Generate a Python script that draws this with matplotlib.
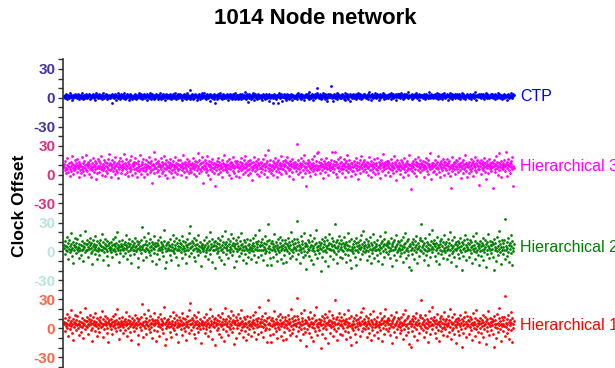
import numpy as np
import matplotlib
matplotlib.use("Agg")
import matplotlib.pyplot as plt

plt.rcParams["font.family"] = ["Liberation Sans", "DejaVu Sans"]

# Clock offset of every node (one value per node, in node order)
ctp_offset = np.array("""
2 1 3 0 2 4 1 2 -1 3 1 2 0 2 5 1 3 1 -2 2 0 3 1 2 4 1
1 3 2 0 2 1 4 -1 2 3 1 2 0 3 1 5 2 1 -1 2 3 0 2 4 1 2
3 0 2 1 4 2 -1 3 1 2 0 3 2 1 4 0 2 3 -2 1 2 5 1 3 0 2
2 4 1 3 0 2 1 -1 3 2 5 1 2 0 3 1 4 2 -1 3 1 2 0 2 3 1
0 2 3 1 4 -5 2 1 3 0 2 4 1 -2 3 2 1 5 0 2 3 1 -1 2 4 1
3 1 2 0 3 2 5 1 -1 2 3 0 4 2 1 3 -2 2 1 4 0 3 2 1 -1 2
1 3 0 2 4 1 3 -1 2 0 3 2 1 5 2 0 3 1 4 -1 2 1 3 0 2 4
2 0 3 1 2 -2 4 2 1 3 0 2 5 1 3 -1 2 4 0 2 1 3 -1 2 0 3
4 2 1 3 -1 2 0 3 1 5 2 -1 3 1 2 4 0 2 3 1 -2 2 4 1 3 0
1 3 2 0 4 1 3 2 -1 2 0 4 1 3 2 0 5 1 2 -1 3 2 1 4 0 2
2 1 4 0 3 2 -2 1 3 2 0 4 1 2 3 -1 2 5 1 0 3 2 1 -1 2 8
3 0 2 4 1 -1 3 2 0 2 4 1 3 -2 2 1 3 0 4 2 1 -1 3 2 5 1
0 2 3 1 5 2 0 3 -1 2 1 4 2 0 3 1 -3 2 4 1 3 0 2 1 3 -1
2 4 1 -5 2 3 1 -1 4 2 0 3 1 2 5 0 2 3 -1 1 4 2 0 3 1 2
1 3 0 2 4 1 -2 3 2 0 4 1 2 3 -1 2 0 4 1 3 2 -1 5 2 0 3
3 1 2 -1 3 0 4 2 1 3 -1 2 4 0 2 1 3 6 0 2 -1 3 1 4 2 -4
0 2 4 1 3 -1 2 0 3 1 5 2 -2 3 1 4 0 2 3 1 -1 4 2 0 3 1
2 1 3 0 -2 2 4 1 3 2 0 -1 3 2 4 1 0 3 2 -3 1 4 2 0 3 1
3 2 0 -6 2 4 1 3 0 2 -1 3 1 2 -5 3 5 1 2 0 3 1 4 2 -3 1
1 4 2 0 3 1 -2 2 4 0 3 1 2 -1 3 2 0 4 1 3 -2 2 1 3 0 2
2 0 3 1 4 2 -1 3 5 1 2 0 3 1 -1 4 2 0 3 2 1 -2 3 1 2 4
3 1 2 4 0 2 -1 6 2 1 3 0 2 4 1 -2 3 1 2 0 4 2 1 3 5 10
1 3 0 2 4 1 3 2 -1 2 0 3 5 1 2 4 -1 2 1 3 0 -3 2 4 1 2
2 4 1 3 12 0 2 -3 1 3 2 4 0 2 1 3 5 1 -1 2 4 1 3 0 2 1
3 0 2 4 1 3 -1 2 5 1 -2 3 2 0 4 1 2 -1 3 2 -3 4 1 2 0 3
1 2 4 0 3 1 2 3 -1 4 2 1 3 5 0 2 1 3 4 -1 2 0 3 1 2 4
2 4 1 3 0 2 3 1 4 -1 2 3 6 1 2 -2 3 2 4 1 0 2 3 1 5 2
3 0 2 4 1 3 2 -2 1 3 0 4 2 1 3 2 5 1 -1 2 4 3 1 2 0 3
1 3 2 0 4 1 3 2 5 -1 2 1 3 4 0 2 1 3 2 4 1 -2 2 3 1 4
4 2 1 3 0 2 5 1 3 2 -1 4 2 0 3 1 2 4 1 3 6 2 0 1 3 2
2 1 3 4 -1 2 0 3 2 1 4 3 1 2 5 0 3 1 2 4 -2 2 3 1 2 3
1 3 0 2 4 1 3 2 -1 1 4 2 3 0 2 1 6 3 2 0 1 4 2 3 1 0
3 2 1 4 2 0 3 1 5 2 -1 1 4 3 2 0 1 3 2 4 -1 2 1 3 5 2
2 0 3 1 4 2 -2 3 2 1 3 0 5 2 1 4 3 -1 2 1 3 2 4 0 1 3
1 4 2 0 3 1 2 4 3 -1 2 1 3 5 2 0 4 1 3 2 -1 2 1 4 3 2
3 1 0 2 4 3 1 2 -1 3 2 4 1 2 0 3 1 6 2 -2 3 2 1 3 4 2
2 3 1 4 0 2 3 1 2 4 -1 1 3 2 5 1 0 2 4 3 1 2 0 3 1 4
1 2 4 3 0 1 3 2 -1 4 2 1 3 0 2 5 1 3 2 4 0 1 3 2 -1 2
3 2 1 0 4 2 3 1 2 -2 3 2 4 1 0 3 2 1 5 2 3 0 1 4 2 3
""".split(), dtype=float)

hier3_offset = np.array("""
8 11 5 14 7 2 10 6 17 9 3 12 8 -1 6 13 9 4 11 19 7 1 10 5 15 8
6 12 9 3 16 7 10 -3 8 13 5 11 2 9 18 6 12 4 8 14 0 10 7 20 5 11
10 4 13 8 1 11 6 15 9 -2 7 12 5 17 8 3 10 14 6 9 -5 12 7 2 16 9
7 14 3 9 12 6 19 8 0 11 5 10 15 7 -1 13 9 4 8 12 2 16 6 10 21 5
12 6 10 -2 8 15 4 11 7 13 1 9 18 5 10 3 12 8 -4 14 6 11 9 17 2 8
5 9 14 7 11 21 8 1 12 6 16 10 3 9 13 -1 7 11 4 15 8 19 6 10 0 12
9 13 6 10 2 17 7 12 5 -3 11 8 14 4 9 20 6 10 1 13 7 11 16 5 8 -2
11 4 8 15 6 10 1 13 9 7 18 3 12 8 5 14 10 -9 6 11 24 9 2 16 7 12
7 12 3 9 14 5 11 -1 10 8 17 6 13 2 9 11 4 19 7 12 0 10 15 6 -4 8
13 8 10 4 12 7 16 2 9 11 5 14 -2 8 10 6 18 3 12 9 7 1 11 15 5 10
6 10 15 8 0 12 5 9 20 7 11 3 13 8 -3 10 6 16 4 12 9 2 14 7 11 5
10 3 12 7 17 9 1 11 6 14 8 -1 10 5 13 22 7 9 2 15 6 11 4 12 8 18
8 13 -9 10 6 15 9 3 12 7 19 5 11 0 9 14 6 10 -5 13 8 4 16 7 11 2
12 7 9 -12 11 5 14 8 1 10 17 6 13 9 3 11 7 -2 15 8 12 5 20 10 6 9
5 11 8 14 3 10 7 16 0 12 9 6 13 -4 8 11 18 4 10 7 2 14 9 12 -1 8
9 14 4 11 7 -2 13 8 10 5 17 12 6 9 1 15 7 11 3 19 8 12 5 10 14 0
11 6 10 2 15 8 12 5 -6 9 13 7 18 10 4 11 8 14 1 9 6 16 12 -1 10 7
7 12 3 13 9 6 16 10 1 11 8 20 5 12 9 -3 14 7 26 10 4 11 15 6 9 2
10 5 14 8 0 12 7 17 9 4 11 -2 13 8 6 15 10 3 12 7 19 9 1 11 6 14
6 11 9 15 4 10 2 13 8 18 7 12 5 -1 10 14 6 11 9 3 16 8 12 -5 7 10
13 8 10 4 32 7 11 1 15 9 6 12 3 10 17 8 -2 11 5 14 9 20 7 12 2 -12
8 12 5 10 15 3 9 13 7 -1 11 6 16 8 10 4 12 19 6 9 1 14 10 7 22 5
23 9 13 6 10 2 12 8 16 5 11 -4 9 14 7 10 3 12 8 17 6 11 0 13 9 7
10 5 12 8 15 24 7 11 3 9 14 6 24 10 1 13 8 -2 11 16 7 9 4 12 18 6
7 13 9 2 11 6 16 10 8 -3 12 5 14 9 20 7 11 3 10 15 6 8 -1 12 9 4
12 8 4 14 9 1 11 7 17 10 5 13 -5 9 6 12 15 8 2 10 19 7 11 4 13 9
9 15 6 11 3 10 13 8 0 12 7 18 9 5 11 -2 14 10 6 9 3 12 16 8 1 11
6 10 12 5 17 8 2 13 9 11 -4 7 15 10 4 12 8 21 6 11 9 0 13 7 10 14
11 3 9 14 7 12 6 -1 10 16 8 5 12 9 2 19 7 11 13 4 10 -6 8 15 6 9
8 12 5 10 1 15 9 7 13 -3 11 6 17 8 10 3 12 9 5 14 0 11 7 20 10 6
10 7 -15 12 9 4 14 8 11 2 16 6 10 13 -1 9 12 5 18 8 11 3 7 15 9 12
5 11 8 14 6 10 -2 13 9 7 17 4 12 10 1 15 8 11 6 22 9 -5 12 7 10 3
12 9 4 10 15 7 11 1 13 8 6 19 10 3 12 9 -3 14 7 11 5 16 8 0 10 13
7 13 10 5 11 16 2 9 12 6 14 8 -1 -14 10 7 18 4 11 9 13 6 1 12 8 15
9 6 14 11 3 10 8 17 5 12 -4 9 13 7 10 2 15 11 6 20 8 12 4 9 -2 11
11 8 2 13 9 6 16 10 4 12 7 -1 14 9 11 5 18 8 12 3 10 15 6 9 -11 13
6 12 9 15 1 11 7 13 10 5 17 8 3 12 9 -5 11 14 7 10 2 16 9 12 6 8
10 4 13 8 12 -14 9 15 6 11 3 10 19 7 13 0 9 12 5 22 8 11 -2 14 7 10
8 12 6 10 15 9 4 23 11 7 13 -1 10 16 5 9 12 2 14 8 11 6 18 -12 9 7
""".split(), dtype=float)

hier1_offset = np.array("""
4 7 -3 11 2 6 15 0 5 -8 9 3 12 -1 6 19 2 8 -5 4 10 -12 7 1 14 5
6 -2 9 3 13 5 0 -7 8 4 17 2 -4 7 11 1 6 -10 3 9 5 -1 21 8 2 12
1 8 5 -6 10 3 14 7 -2 4 9 0 -13 6 12 3 8 -3 5 16 2 7 -8 11 4 0
9 3 -4 7 12 1 6 18 2 -9 5 10 4 -1 8 13 3 6 -5 0 11 7 -14 4 9 2
5 -1 10 4 7 -6 2 13 8 3 0 15 6 -3 9 4 20 1 7 -11 5 11 2 -2 8 6
3 12 6 -5 1 8 4 10 -2 7 17 3 -8 5 9 0 13 6 2 -4 8 4 -12 11 5 1
7 2 -3 9 5 14 0 6 11 3 -7 8 -16 4 10 1 6 -2 12 5 25 3 -9 7 15 2
0 8 4 -6 11 3 7 19 2 -1 9 5 13 -4 6 1 10 -10 4 8 3 -2 16 6 9 -13
6 -3 9 2 7 12 -8 4 1 15 5 10 -1 3 8 -5 6 22 11 -17 4 0 7 -11 2 9
10 4 1 7 -4 13 6 2 -9 8 5 17 0 3 11 -2 7 4 14 -6 9 1 -14 6 3 12
2 9 5 -1 8 16 3 -7 6 11 0 4 -3 10 7 -12 2 13 5 8 1 -5 19 4 9 26
5 -2 11 6 1 9 -6 14 3 7 -10 4 12 0 8 3 -4 17 6 2 10 -1 5 -15 7 4
8 3 0 12 5 -5 7 2 15 -1 9 4 -8 6 11 1 20 3 -3 8 5 13 -11 2 6 10
1 7 11 -17 6 3 9 -2 14 4 0 8 -6 5 12 2 -9 7 3 16 -1 10 5 -13 8 21
4 10 -3 6 2 13 -7 8 1 11 5 -1 18 3 7 -4 9 0 14 6 -16 4 8 -10 12 3
9 0 6 15 3 -5 11 4 7 -2 19 1 8 -9 5 12 2 -3 6 10 -12 4 13 1 7 -6
3 8 -1 5 12 2 -8 7 4 14 0 9 -4 6 17 3 -11 10 5 1 8 -6 11 22 2 7
6 -4 10 2 7 13 1 -9 5 9 3 16 -2 8 0 11 -14 4 29 6 -1 12 3 -7 9 -14
2 11 5 -6 8 3 18 0 6 -3 10 4 -10 7 13 1 5 -1 9 15 2 -8 6 12 4 -12
7 1 -4 9 5 12 3 -11 8 0 14 6 -2 4 10 -7 7 20 2 11 -5 3 8 -1 13 5
4 9 2 -8 13 32 6 -3 10 1 7 -12 5 16 3 -1 8 11 -6 4 19 0 9 -4 6 -18
8 -1 6 12 3 -5 10 2 17 5 -9 7 1 11 4 -13 6 14 0 8 -3 9 22 5 2 -7
1 6 10 -2 7 4 -20 9 3 13 -6 5 0 11 8 -10 2 15 6 -1 12 4 -15 7 18 3
9 3 -5 8 1 14 6 -8 11 2 7 -1 29 5 -3 10 4 12 -12 6 0 9 16 3 -6 8
5 12 2 -7 9 0 6 15 -3 8 4 -11 10 1 7 19 3 -4 11 6 -9 2 13 -17 5 0
3 -2 8 11 5 -6 1 9 14 -14 6 2 10 -1 7 4 -8 12 3 17 5 -3 8 0 21 6
10 4 -1 7 2 13 -9 5 8 0 11 -5 6 3 15 -12 9 1 -2 7 4 18 -7 10 5 1
2 8 6 -4 12 3 -10 7 1 16 5 -2 9 4 -13 11 0 6 13 -6 8 3 20 -1 7 9
7 -3 11 5 0 9 4 -7 14 2 6 -15 8 1 10 -4 12 5 3 -9 17 6 -1 8 11 2
4 10 1 -5 7 12 -2 6 3 15 -11 8 5 -1 9 19 2 -7 11 4 0 13 -4 6 -16 8
6 2 -19 10 4 -3 8 13 1 -8 5 11 7 -1 16 3 -12 9 4 6 -5 12 2 14 29 0
11 5 -2 7 3 -9 9 1 14 6 -4 10 0 8 -14 4 18 2 -6 7 11 3 -1 22 5 9
3 8 12 -5 6 1 -10 9 4 15 -2 7 5 -13 11 2 8 -3 13 0 6 -7 10 4 17 1
8 -1 5 10 2 -8 13 6 3 -4 9 1 20 7 -11 4 12 -2 6 0 15 -6 8 3 -15 10
1 7 4 -3 11 5 -7 9 2 14 -1 6 10 -19 3 8 -5 12 4 17 0 -9 7 13 2 5
9 3 -6 8 1 12 5 -2 10 -12 6 3 16 0 7 -8 11 4 -1 19 2 9 -4 6 -14 8
4 11 0 6 -5 9 2 14 -9 7 3 -1 12 5 -16 8 1 10 -3 6 18 4 -7 11 2 7
7 -2 10 3 8 -6 13 -19 5 1 9 -10 4 15 0 6 -4 11 3 21 -1 8 5 -13 12 2
5 9 -3 12 2 -8 34 6 1 10 -5 4 14 -1 7 -11 9 3 17 -2 6 -14 11 4 0 8
""".split(), dtype=float)

# Hierarchical 2 reports the same per-node offsets as Hierarchical 1
hier2_offset = hier1_offset

series_names = ["CTP", "Hierarchical 3", "Hierarchical 2", "Hierarchical 1"]
series_values = [ctp_offset, hier3_offset, hier2_offset, hier1_offset]
point_colors = ["#0000ff", "#ff00ff", "#008000", "#ff0000"]
tick_colors = ["#4433aa", "#e0307a", "#b8e4de", "#ff6347"]
tick_values = [-30, 0, 30]

n_nodes = 1014
band = 80                      # vertical room given to each series
centres = [3 * band, 2 * band, band, 0]
label_levels = [1, 8, 4, 3]

W, H = 615, 368
fig = plt.figure(figsize=(W / 100, H / 100), dpi=100)
ax = fig.add_axes([63 / W, 0, (515 - 63) / W, 1 - 59.3 / H])

for name, vals, col, c0, lvl in zip(series_names, series_values,
                                    point_colors, centres, label_levels):
    x = np.arange(len(vals))
    ax.scatter(x, vals + c0, s=4, color=col, marker="o", linewidths=0)
    ax.text(n_nodes + 14, c0 + lvl, name, color=col, fontsize=11.5,
            ha="left", va="center", clip_on=False)

ax.set_xlim(-2, n_nodes + 2)
ax.set_ylim(-41.3, 3 * band + 40)

# y ticks every 10 units; each band labels its own -30 / 0 / 30
ticks = np.arange(-40, 3 * band + 41, 10)
labels, colours = [], []
for t in ticks:
    k = int(np.floor((t + band / 2) / band))
    k = min(max(k, 0), 3)
    rel = t - k * band
    labels.append(f"{int(rel)}" if rel in tick_values else "")
    colours.append(tick_colors[3 - k])
ax.set_yticks(ticks)
ax.set_yticklabels(labels)
for lab, c in zip(ax.get_yticklabels(), colours):
    lab.set_color(c)
    lab.set_fontweight("bold")
    lab.set_fontsize(11)

ax.tick_params(axis="y", direction="out", length=3.5, width=1,
               color="#333333", pad=2)
ax.set_xticks([])
for side in ("top", "right", "bottom"):
    ax.spines[side].set_visible(False)
ax.spines["left"].set_color("#333333")
ax.spines["left"].set_linewidth(1.2)
ax.patch.set_alpha(0)

fig.text(315 / W, 1 - 18 / H, "1014 Node network", fontsize=16,
         fontweight="bold", ha="center", va="center")
fig.text(20 / W, 1 - 206 / H, "Clock Offset", fontsize=12.5,
         fontweight="bold", rotation=90, ha="center", va="center")

fig.savefig("out.png", dpi=100)
